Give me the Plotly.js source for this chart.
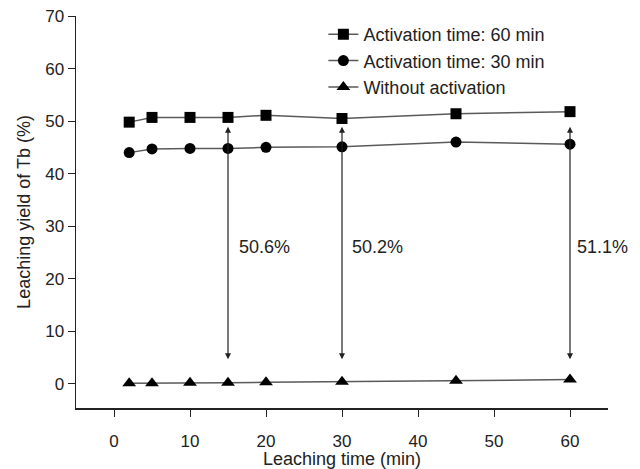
<!DOCTYPE html>
<html>
<head>
<meta charset="utf-8">
<script src="https://cdn.plot.ly/plotly-3.0.1.min.js"></script>
<style>html,body{margin:0;padding:0;background:#fff;}#chart{width:640px;height:469px;}</style>
</head>
<body>
<div id="chart"></div>
<script>
const time = [2, 5, 10, 15, 20, 30, 45, 60];
const act60 = [49.8, 50.7, 50.7, 50.7, 51.1, 50.5, 51.4, 51.8];
const act30 = [44.0, 44.7, 44.8, 44.8, 45.0, 45.1, 46.0, 45.6];
const noAct = [0.1, 0.1, 0.2, 0.2, 0.3, 0.4, 0.6, 0.8];
const seriesNames = ["Activation time: 60 min", "Activation time: 30 min", "Without activation"];
const arrowX = [15, 30, 60];
const arrowTop = [48.9, 48.9, 48.9];
const arrowBottom = [4.4, 4.4, 4.4];
const arrowLabels = ["50.6%", "50.2%", "51.1%"];
const labelX = [16.2, 31.1, 60.7];
const labelY = [26.0, 26.0, 26.0];

const font = "Liberation Sans, Arial, sans-serif";
const lineStyle = {color: "#5a5a5a", width: 1.5};
function mk(y, name, symbol, size, i) {
  return {x: time, y: y, name: name, type: "scatter", mode: "lines+markers",
    line: lineStyle, marker: {symbol: symbol, size: size, color: "#000"},
    legendgroup: "g" + i};
}
const data = [
  mk(act60, seriesNames[0], "square", 11, 0),
  mk(act30, seriesNames[1], "circle", 11, 1),
  mk(noAct, seriesNames[2], "triangle-up", 12, 2)
];
const annotations = [];
for (let i = 0; i < arrowX.length; i++) {
  annotations.push({x: arrowX[i], y: arrowTop[i], ax: arrowX[i], ay: arrowBottom[i],
    xref: "x", yref: "y", axref: "x", ayref: "y", text: "", showarrow: true,
    arrowhead: 2, startarrowhead: 2, arrowside: "end+start", arrowsize: 1,
    arrowwidth: 1.2, arrowcolor: "#222"});
  annotations.push({x: labelX[i], y: labelY[i], xref: "x", yref: "y", text: arrowLabels[i],
    showarrow: false, xanchor: "left", yanchor: "middle",
    font: {family: font, size: 18, color: "#222"}});
}
const layout = {
  width: 640, height: 469,
  margin: {l: 76, r: 32, t: 16, b: 61},
  paper_bgcolor: "#fff", plot_bgcolor: "#fff",
  font: {family: font, size: 18, color: "#222"},
  showlegend: true,
  legend: {x: 0.465, y: 1.0, xanchor: "left", yanchor: "top", bgcolor: "rgba(0,0,0,0)",
    font: {family: font, size: 18, color: "#222"}, tracegroupgap: 0},
  xaxis: {range: [-5, 65], tickvals: [0, 10, 20, 30, 40, 50, 60], showgrid: false, zeroline: false,
    showline: true, linecolor: "#222", linewidth: 1.5, ticks: "outside", ticklen: 7, tickcolor: "#222",
    tickfont: {family: font, size: 17}, ticklabelstandoff: 10,
    title: {text: "Leaching time (min)", font: {family: font, size: 18}, standoff: 4}},
  yaxis: {range: [-4.6, 70], tickvals: [0, 10, 20, 30, 40, 50, 60, 70], showgrid: false, zeroline: false,
    showline: true, linecolor: "#222", linewidth: 1.5, ticks: "outside", ticklen: 7, tickcolor: "#222",
    tickfont: {family: font, size: 17},
    title: {text: "Leaching yield of Tb (%)", font: {family: font, size: 18}, standoff: 10}},
  annotations: annotations
};
Plotly.newPlot("chart", data, layout, {displayModeBar: false, staticPlot: true});
</script>
</body>
</html>
